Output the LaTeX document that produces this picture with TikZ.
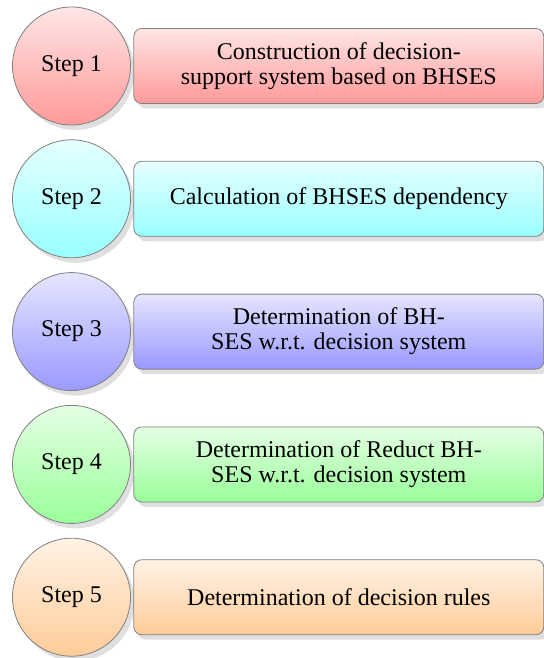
\documentclass[tikz,border=0pt]{standalone}
\usepackage{fontspec}
\setmainfont{Liberation Serif}
\usepackage{xcolor}
\usepackage{tikz}
\usetikzlibrary{shapes,shadows,positioning}

\begin{document}
\begin{tikzpicture}[
    node distance=7pt and 1.25pt,
    stepcirc/.style={circle, draw=gray, top color=#1!10, bottom color=#1!40, minimum size=59pt, inner sep=0pt, font=\fontsize{12}{12.5}\selectfont, drop shadow={opacity=0.25, shadow xshift=2pt, shadow yshift=-2.5pt}},
    taskbox/.style={rectangle, draw=gray, top color=#1!10, bottom color=#1!40, rounded corners=4pt, align=center, minimum height=37.5pt, minimum width=205pt, font=\fontsize{12}{12.5}\selectfont, drop shadow={opacity=0.25, shadow xshift=2pt, shadow yshift=-2.5pt}}
]
    \useasboundingbox (0,0) rectangle (272pt,-329pt);

    \node [stepcirc=red] (s1) at (35.75pt,-33pt) {Step 1};
    \node [stepcirc=cyan, below=of s1] (s2) {Step 2};
    \node [stepcirc=blue, below=of s2] (s3) {Step 3};
    \node [stepcirc=green, below=of s3] (s4) {Step 4};
    \node [stepcirc=orange, below=of s4] (s5) {Step 5};

    \node [taskbox=red, right=of s1] (t1) {Construction of decision-\\support system based on BHSES};
    \node [taskbox=cyan, right=of s2] (t2) {Calculation of BHSES dependency};
    \node [taskbox=blue, right=of s3] (t3) {Determination of BH-\\SES w.r.t. decision system};
    \node [taskbox=green, right=of s4] (t4) {Determination of Reduct BH-\\SES w.r.t. decision system};
    \node [taskbox=orange, right=of s5] (t5) {Determination of decision rules};
\end{tikzpicture}
\end{document}
